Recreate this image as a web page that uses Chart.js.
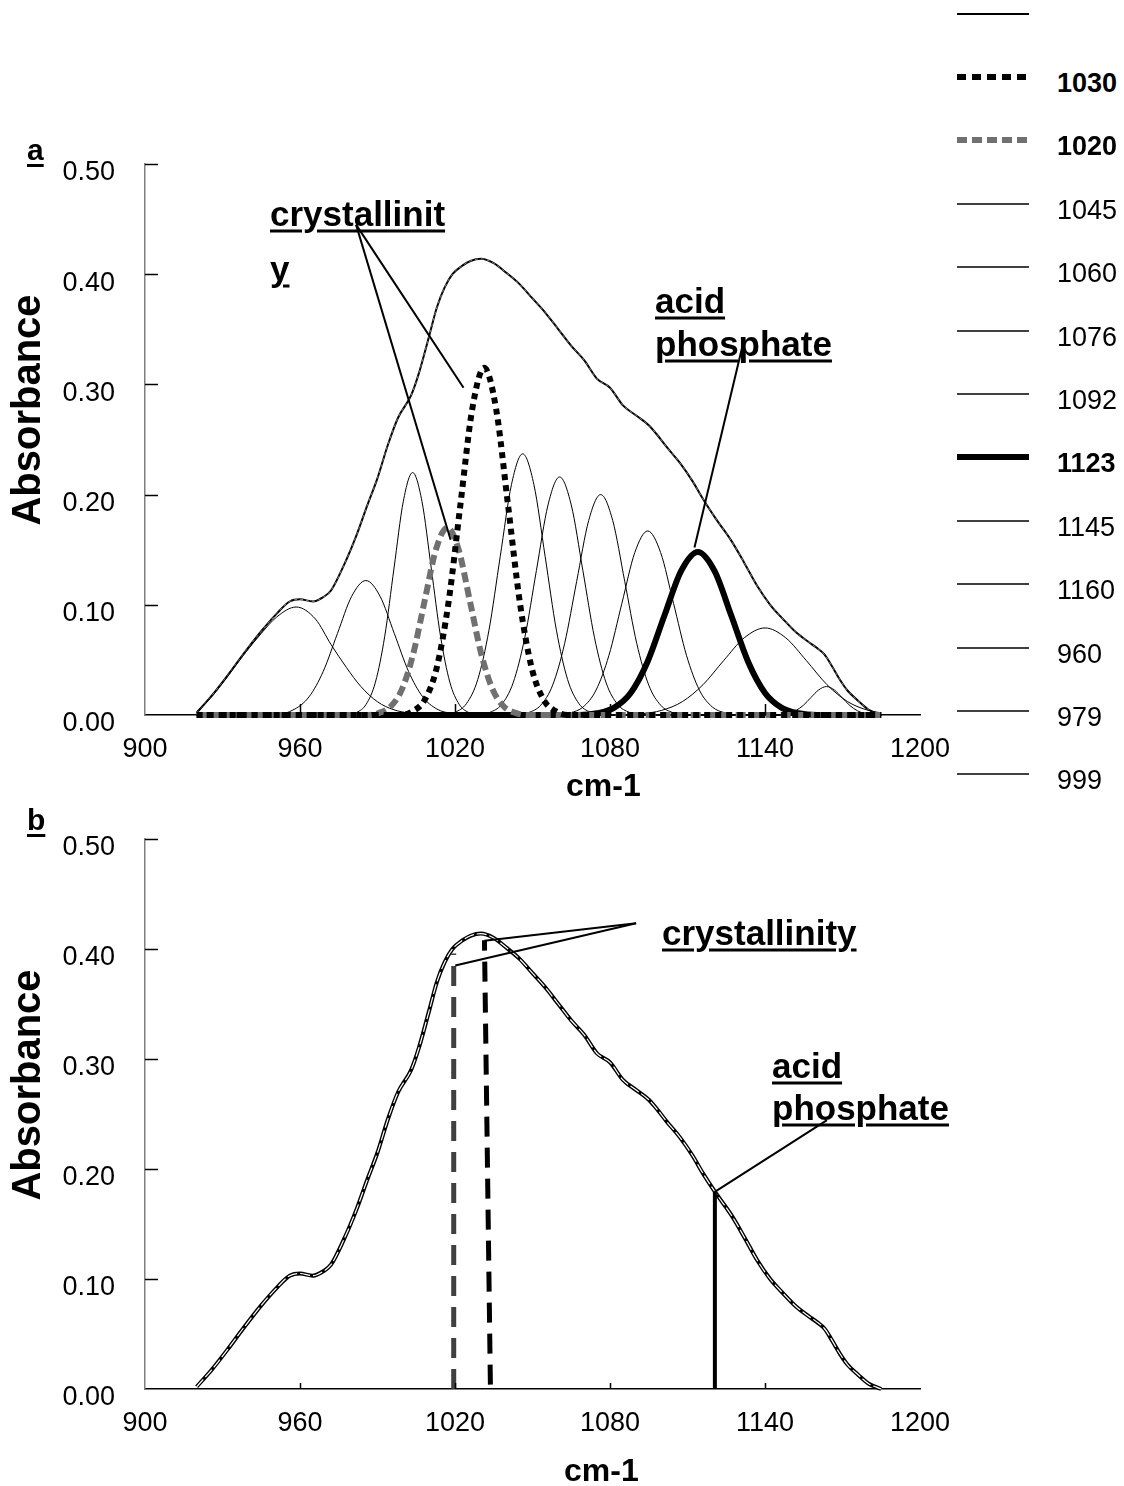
<!DOCTYPE html>
<html>
<head>
<meta charset="utf-8">
<title>Band fitting of phosphate region</title>
<script src="https://cdn.jsdelivr.net/npm/chart.js@4.4.1/dist/chart.umd.min.js"></script>
<style>
 body { margin: 0; background: #fff; }
 #page { position: relative; width: 1124px; height: 1486px; overflow: hidden; font-family: "Liberation Sans", Arial, sans-serif; color: #000; }
 canvas.chart { position: absolute; left: 0; }
 .txt { position: absolute; white-space: nowrap; line-height: 1; transform: translateY(-50%); }
 .note { font-weight: bold; font-size: 35px; text-decoration: underline; text-decoration-thickness: 3px; text-underline-offset: 4px; }
 .panel { font-weight: bold; font-size: 30px; text-decoration: underline; text-decoration-thickness: 3px; text-underline-offset: 4px; }
 .axt { font-weight: bold; font-size: 32px; }
 .vaxt { position: absolute; white-space: nowrap; line-height: 1; font-weight: bold; font-size: 40px; transform: translate(-50%, -50%) rotate(-90deg); }
 .leg { font-size: 27px; }
 .legb { font-size: 27px; font-weight: bold; }
 canvas.sample { position: absolute; }
</style>
</head>
<body>
<div id="page">
 <canvas id="chartA" class="chart" width="1000" height="706" style="top:104px"></canvas>
 <canvas id="chartB" class="chart" width="1000" height="707" style="top:779px"></canvas>

 <div class="txt panel" style="left:27px; top:150px">a</div>
 <div class="txt panel" style="left:27px; top:820px">b</div>
 <div class="vaxt" style="left:26px; top:410px">Absorbance</div>
 <div class="vaxt" style="left:26px; top:1085px">Absorbance</div>
 <div class="txt axt" style="left:566px; top:785px">cm-1</div>
 <div class="txt axt" style="left:564px; top:1470px">cm-1</div>

 <div class="txt note" style="left:270px; top:213px">crystallinit</div>
 <div class="txt note" style="left:270px; top:268px">y</div>
 <div class="txt note" style="left:655px; top:300px">acid</div>
 <div class="txt note" style="left:655px; top:343px">phosphate</div>

 <div class="txt note" style="left:662px; top:932px">crystallinity</div>
 <div class="txt note" style="left:772px; top:1065px">acid</div>
 <div class="txt note" style="left:772px; top:1107px">phosphate</div>

 <div id="legend"></div>
</div>

<script>
var xTicks = [900, 960, 1020, 1080, 1140, 1200];
var xTickLabels = ["900", "960", "1020", "1080", "1140", "1200"];
var yTicks = [0, 0.1, 0.2, 0.3, 0.4, 0.5];
var yTickLabels = ["0.00", "0.10", "0.20", "0.30", "0.40", "0.50"];

// measured spectrum / fitted sum (cm-1, absorbance)
var envelope = [
 [920, 0.002], [926, 0.018], [932, 0.036], [938, 0.055], [945, 0.076], [951, 0.092],
 [956, 0.103], [960, 0.105], [965, 0.103], [969, 0.107], [972, 0.113], [977, 0.136],
 [982, 0.164], [986, 0.19], [990, 0.215], [994, 0.245], [998, 0.27], [1003, 0.29],
 [1006, 0.31], [1010, 0.344], [1013, 0.37], [1016, 0.388], [1019, 0.4], [1023, 0.408],
 [1026, 0.412], [1030, 0.414], [1035, 0.41], [1040, 0.401], [1045, 0.391], [1050, 0.378],
 [1055, 0.365], [1060, 0.35], [1065, 0.335], [1070, 0.322], [1075, 0.305], [1080, 0.297],
 [1085, 0.281], [1090, 0.272], [1095, 0.263], [1098, 0.255], [1102, 0.243], [1107, 0.229],
 [1112, 0.212], [1116, 0.196], [1121, 0.178], [1127, 0.158], [1132, 0.138], [1137, 0.117],
 [1142, 0.1], [1147, 0.087], [1152, 0.075], [1157, 0.066], [1160, 0.061], [1163, 0.055],
 [1166, 0.044], [1169, 0.032], [1172, 0.022], [1176, 0.013], [1180, 0.005], [1185, 0]
];

// fitted bands
var comp960 = [[920, 0.003], [926, 0.017], [932, 0.035], [938, 0.054], [945, 0.074], [951, 0.089], [958.5, 0.098], [966, 0.087], [972, 0.064], [978, 0.043], [983.5, 0.026], [990, 0.012], [996, 0.005], [1003, 0.0015], [1012, 0], [1185, 0]];
var comp979 = [[920, 0], [950, 0], [958, 0.0054], [963.5, 0.0165], [969, 0.0396], [974.5, 0.074], [980, 0.1077], [985.5, 0.122], [991, 0.1077], [996.5, 0.074], [1002, 0.0396], [1007.5, 0.0165], [1013, 0.0054], [1018.5, 0.0014], [1024, 0], [1185, 0]];
var comp999 = [[920, 0], [978, 0], [982, 0.0024], [985.6, 0.0097], [989.2, 0.0298], [992.8, 0.0714], [996.4, 0.1334], [1000, 0.194], [1003.6, 0.22], [1007.2, 0.194], [1010.8, 0.1334], [1014.4, 0.0714], [1018, 0.0298], [1021.6, 0.0097], [1025.2, 0.0024], [1030, 0], [1185, 0]];
var comp1020 = [[920, 0], [986, 0], [990.6, 0.0019], [995, 0.0075], [999.4, 0.023], [1003.8, 0.0552], [1008.2, 0.103], [1012.6, 0.15], [1017, 0.17], [1021.4, 0.15], [1025.8, 0.103], [1030.2, 0.0552], [1034.6, 0.023], [1039, 0.0075], [1043.4, 0.0019], [1048, 0], [1185, 0]];
var comp1030 = [[920, 0], [999, 0], [1003.7, 0.0035], [1008.3, 0.0138], [1012.9, 0.0426], [1017.5, 0.1023], [1022.1, 0.191], [1026.7, 0.278], [1031.3, 0.315], [1035.9, 0.278], [1040.5, 0.191], [1045.1, 0.1023], [1049.7, 0.0426], [1054.3, 0.0138], [1058.9, 0.0035], [1064, 0], [1185, 0]];
var comp1045 = [[920, 0], [1015, 0], [1020.1, 0.0026], [1024.45, 0.0104], [1028.8, 0.0321], [1033.15, 0.077], [1037.5, 0.1437], [1041.85, 0.209], [1046.2, 0.237], [1050.55, 0.209], [1054.9, 0.1437], [1059.25, 0.077], [1063.6, 0.0321], [1067.95, 0.0104], [1072.3, 0.0026], [1077, 0], [1185, 0]];
var comp1060 = [[920, 0], [1029, 0], [1033.5, 0.0024], [1038, 0.0095], [1042.5, 0.0292], [1047, 0.0701], [1051.5, 0.131], [1056, 0.1906], [1060.5, 0.216], [1065, 0.1906], [1069.5, 0.131], [1074, 0.0701], [1078.5, 0.0292], [1083, 0.0095], [1087.5, 0.0024], [1092, 0], [1185, 0]];
var comp1076 = [[920, 0], [1044, 0], [1048.5, 0.0022], [1053.15, 0.0088], [1057.8, 0.0271], [1062.45, 0.065], [1067.1, 0.1213], [1071.75, 0.1765], [1076.4, 0.2], [1081.05, 0.1765], [1085.7, 0.1213], [1090.35, 0.065], [1095, 0.0271], [1099.65, 0.0088], [1104.3, 0.0022], [1109, 0], [1185, 0]];
var comp1092 = [[920, 0], [1060, 0], [1064.6, 0.0019], [1069.6, 0.0073], [1074.6, 0.0226], [1079.6, 0.0542], [1084.6, 0.1013], [1089.6, 0.1474], [1094.6, 0.167], [1099.6, 0.1474], [1104.6, 0.1013], [1109.6, 0.0542], [1114.6, 0.0226], [1119.6, 0.0073], [1124.6, 0.0019], [1130, 0], [1185, 0]];
var comp1123 = [[920, 0], [1068, 0], [1075, 0.0016], [1081.5, 0.0065], [1088, 0.02], [1094.5, 0.0481], [1101, 0.0898], [1107.5, 0.1306], [1114, 0.148], [1120.5, 0.1306], [1127, 0.0898], [1133.5, 0.0481], [1140, 0.02], [1146.5, 0.0065], [1153, 0.0016], [1160, 0], [1185, 0]];
var comp1145 = [[920, 0], [1082, 0], [1092, 0.0011], [1100, 0.0042], [1108, 0.0121], [1116, 0.0275], [1124, 0.0494], [1132, 0.0701], [1140, 0.079], [1148, 0.0701], [1156, 0.0494], [1164, 0.0275], [1172, 0.0121], [1180, 0.0042], [1185, 0.0019]];
var comp1160 = [[920, 0], [1144, 0], [1148.8, 0.0012], [1151.8, 0.0038], [1154.8, 0.0087], [1157.8, 0.0159], [1160.8, 0.0228], [1163.8, 0.0258], [1166.8, 0.0228], [1169.8, 0.0159], [1172.8, 0.0087], [1175.8, 0.0038], [1178.8, 0.0012], [1182, 0], [1185, 0]];

var bandNames = ["1030", "1020", "1045", "1060", "1076", "1092", "1123", "1145", "1160", "960", "979", "999"];
var bandData = [comp1030, comp1020, comp1045, comp1060, comp1076, comp1092, comp1123, comp1145, comp1160, comp960, comp979, comp999];

// panel b marker lines
var mark1020 = [[1019.5, 0], [1019.5, 0.396]];
var mark1030 = [[1033.7, 0.004], [1031.4, 0.408]];
var mark1123 = [[1120.6, 0], [1120.6, 0.179]];

// leader lines of the labels, in data units
var notesA = [
 [[981.7, 0.445], [1023.3, 0.297]],
 [[981.7, 0.445], [1018.3, 0.159]],
 [[1131.9, 0.341], [1112.7, 0.152]]
];
var notesB = [
 [[1090.1, 0.4234], [1031.4, 0.4075]],
 [[1090.1, 0.4234], [1020.1, 0.385]],
 [[1164, 0.2445], [1120.4, 0.179]]
];

var fontName = "'Liberation Sans', Arial, sans-serif";

function toPoints(arr) {
 return arr.map(function (p) {
  return { x: p[0], y: p[1] };
 });
}

function bandStyle(name) {
 if (name === "1030") return { color: "#000000", width: 6, dash: [6, 5] };
 if (name === "1020") return { color: "#707070", width: 6, dash: [10, 5] };
 if (name === "1123") return { color: "#000000", width: 6, dash: [] };
 return { color: "#000000", width: 1, dash: [] };
}

function lineSet(arr, color, width, dash, curved) {
 return {
  data: toPoints(arr),
  borderColor: color,
  borderWidth: width,
  borderDash: dash,
  borderCapStyle: "butt",
  pointRadius: 0,
  fill: false,
  clip: 10,
  tension: curved ? 0.4 : 0,
  cubicInterpolationMode: curved ? "monotone" : "default",
 };
}

var innerTicks = {
 id: "innerTicks",
 afterDraw: function (chart, args, opts) {
  var ctx = chart.ctx;
  var xs = chart.scales.x;
  var ys = chart.scales.y;
  ctx.save();
  ctx.strokeStyle = "#000";
  ctx.lineWidth = 1.5;
  yTicks.forEach(function (v) {
   if (v === 0) return;
   var py = Math.round(ys.getPixelForValue(v)) + 0.5;
   ctx.beginPath();
   ctx.moveTo(xs.left, py);
   ctx.lineTo(xs.left + opts.yLen, py);
   ctx.stroke();
  });
  xTicks.forEach(function (v) {
   if (v === 900 || v === 1200) return;
   var px = Math.round(xs.getPixelForValue(v)) + 0.5;
   ctx.beginPath();
   ctx.moveTo(px, ys.bottom);
   ctx.lineTo(px, ys.bottom - opts.xLen);
   ctx.stroke();
  });
  ctx.lineWidth = 2;
  opts.notes.forEach(function (seg) {
   ctx.beginPath();
   ctx.moveTo(xs.getPixelForValue(seg[0][0]), ys.getPixelForValue(seg[0][1]));
   ctx.lineTo(xs.getPixelForValue(seg[1][0]), ys.getPixelForValue(seg[1][1]));
   ctx.stroke();
  });
  ctx.restore();
 },
};

// chart area is fixed at x 145..920 inside the canvas, 60px from the top
function makeChart(id, datasets, bottomH, notes, xLen) {
 return new Chart(document.getElementById(id), {
  type: "line",
  data: { datasets: datasets },
  plugins: [innerTicks],
  options: {
   responsive: false,
   animation: false,
   events: [],
   layout: { padding: { top: 60, right: 80, left: 0, bottom: 0 } },
   plugins: {
    legend: { display: false },
    tooltip: { enabled: false },
    innerTicks: { notes: notes, xLen: xLen, yLen: 13 },
   },
   scales: {
    x: {
     type: "linear",
     min: 900,
     max: 1200,
     afterBuildTicks: function (scale) {
      scale.ticks = xTicks.map(function (v) {
       return { value: v };
      });
     },
     afterFit: function (scale) {
      scale.height = bottomH;
     },
     ticks: {
      color: "#000",
      font: { family: fontName, size: 27 },
      padding: 18,
      maxRotation: 0,
      autoSkip: false,
      callback: function (value, index) {
       return xTickLabels[index];
      },
     },
     grid: { display: false, drawTicks: false },
     border: { color: "#000", width: 1.5 },
    },
    y: {
     type: "linear",
     min: 0,
     max: 0.5,
     afterBuildTicks: function (scale) {
      scale.ticks = yTicks.map(function (v) {
       return { value: v };
      });
     },
     afterFit: function (scale) {
      scale.width = 145;
     },
     ticks: {
      color: "#000",
      font: { family: fontName, size: 27 },
      padding: 30,
      labelOffset: 9,
      callback: function (value, index) {
       return yTickLabels[index];
      },
     },
     grid: { display: false, drawTicks: false },
     border: { color: "#808080", width: 1.5 },
    },
   },
  },
 });
}

// panel a: envelope + the twelve bands
var setsA = [];
bandNames.forEach(function (name, i) {
 var st = bandStyle(name);
 setsA.push(lineSet(bandData[i], st.color, st.width, st.dash, true));
});
setsA.push(lineSet(envelope, "#a0a0a0", 0.8, [3, 3], true));
setsA.push(lineSet(envelope, "#000000", 2, [], true));
makeChart("chartA", setsA, 95, notesA, 11);

// panel b: envelope + band positions
var setsB = [
 lineSet(mark1123, "#000000", 4, [], false),
 lineSet(mark1030, "#000000", 5, [20, 11], false),
 lineSet(mark1020, "#404040", 5, [20, 11], false),
 lineSet(envelope, "#ffffff", 1.2, [10, 3], true),
 lineSet(envelope, "#000000", 4, [], true),
];
makeChart("chartB", setsB, 97, notesB, 6);

// legend on the right
function buildLegend() {
 var box = document.getElementById("legend");
 var rows = [{ name: "", style: { color: "#000", width: 2, dash: [] } }];
 bandNames.forEach(function (name) {
  rows.push({ name: name, style: bandStyle(name) });
 });
 rows.forEach(function (row, i) {
  var cy = 19.5 + i * 63.4;
  var c = document.createElement("canvas");
  c.className = "sample";
  c.width = 76;
  c.height = 20;
  c.style.left = "955px";
  c.style.top = Math.round(cy - 16) + "px";
  var ctx = c.getContext("2d");
  ctx.strokeStyle = row.style.color;
  ctx.lineWidth = row.style.width === 1 ? 1.5 : row.style.width;
  ctx.setLineDash(row.name === "1030" ? [9, 6] : row.style.dash);
  ctx.beginPath();
  ctx.moveTo(2, 10);
  ctx.lineTo(74, 10);
  ctx.stroke();
  box.appendChild(c);
  if (row.name) {
   var t = document.createElement("div");
   t.className = "txt " + (row.style.width > 1 ? "legb" : "leg");
   t.style.left = "1057px";
   t.style.top = cy + "px";
   t.textContent = row.name;
   box.appendChild(t);
  }
 });
}
buildLegend();
</script>
</body>
</html>
